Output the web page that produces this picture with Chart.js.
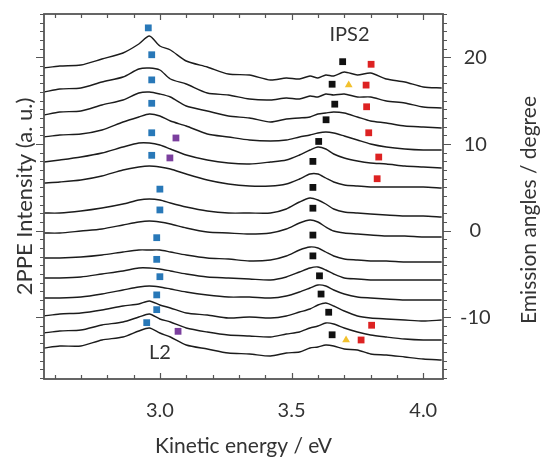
<!DOCTYPE html>
<html>
<head>
<meta charset="utf-8">
<script src="https://cdn.jsdelivr.net/npm/chart.js@4.4.0/dist/chart.umd.min.js"></script>
<style>
  html, body { margin: 0; padding: 0; background: #fff; }
  #wrap { width: 542px; height: 459px; }
</style>
</head>
<body>
<div id="wrap"><canvas id="spectraChart"></canvas></div>
<script>
// kinetic energy grid (eV) shared by every spectrum
const energy = [2.56, 2.62, 2.70, 2.78, 2.86, 2.92, 2.96, 3.00, 3.04, 3.10, 3.18, 3.26, 3.34, 3.42,
  3.48, 3.53, 3.57, 3.60, 3.63, 3.66, 3.70, 3.75, 3.80, 3.86, 3.93, 4.00, 4.07];

// stacked 2PPE spectra (a.u., offsets included), top trace first
const spec01 = [311,313,314,320,326,335,343,333,329,318,312,305,304,299,301,300,303,301,304,303,307,304,306,300,297,292,291];
const spec02 = [287,290,291,297,302,310,311,309,300,295,286,284,280,279,281,280,283,282,285,284,285,282,282,278,276,272,271];
const spec03 = [264,267,268,274,279,286,287,285,282,273,268,263,261,257,260,261,262,265,266,267,266,262,258,256,253,252,251];
const spec04 = [242,244,245,249,257,262,265,263,258,253,245,242,239,238,239,242,244,246,247,246,243,239,235,232,230,229,229];
const spec05 = [217,219,222,226,232,236,236,234,230,224,219,216,215,217,219,224,229,232,230,225,221,218,216,215,213,212,211];
const spec06 = [196,197,199,203,209,212,213,212,210,205,199,195,193,193,195,200,205,205,201,197,194,193,192,192,192,192,191];
const spec07 = [166,166,168,171,175,179,180,179,176,172,168,166,166,166,170,177,181,179,175,170,167,166,165,164,163,163,162];
const spec08 = [146,146,148,150,154,157,158,157,155,151,147,146,145,146,150,156,159,157,152,148,146,145,144,143,143,142,142];
const spec09 = [121,121,122,124,127,129,129,129,127,124,121,120,118,119,123,129,132,131,127,123,120,119,118,118,117,117,117];
const spec10 = [101,101,102,105,108,111,111,110,108,105,102,101,100,99,102,107,111,112,109,105,101,100,99,99,99,99,99];
const spec11 = [81,81,82,85,89,92,93,92,90,87,84,82,82,81,83,87,91,94,93,89,85,82,81,80,79,79,79];
const spec12 = [63,65,66,69,73,75,78,74,71,66,64,61,62,61,63,67,70,74,76,73,68,63,61,60,59,58,59];
const spec13 = [46,48,49,54,57,62,65,60,57,51,47,44,43,42,45,47,51,53,56,55,51,47,44,42,40,39,39];
const spec14 = [31,33,33,39,42,48,51,46,42,34,30,26,25,23,26,27,31,32,34,33,30,29,25,24,22,20,19];

// peak positions: energy (eV) and emission angle (degree)
const l2Energy = [2.956, 2.969, 2.969, 2.969, 2.969, 2.969, 3.000, 3.000, 2.988, 2.988, 3.000, 2.988, 2.988, 2.950];
const l2Angle = [23.4, 20.3, 17.4, 14.7, 11.3, 8.7, 4.8, 2.4, -0.8, -3.3, -5.3, -7.4, -9.1, -10.6];
const ipsEnergy = [3.694, 3.654, 3.664, 3.631, 3.603, 3.581, 3.581, 3.581, 3.581, 3.581, 3.606, 3.612, 3.641, 3.654];
const ipsAngle = [19.5, 16.9, 14.6, 12.8, 10.3, 8.0, 5.0, 2.6, -0.5, -2.9, -5.2, -7.3, -9.4, -12.0];
const redEnergy = [3.802, 3.783, 3.785, 3.793, 3.831, 3.825, 3.804, 3.764];
const redAngle = [19.2, 16.8, 14.3, 11.3, 8.5, 6.0, -10.9, -12.6];
const yellowEnergy = [3.717, 3.707];
const yellowAngle = [16.8, -12.6];
const purpleEnergy = [3.061, 3.038, 3.069];
const purpleAngle = [10.7, 8.4, -11.6];

// axis tick labels
const energyTicks = [3.0, 3.5, 4.0];
const angleTicks = [-10, 0, 10, 20];

const spectra = [spec01, spec02, spec03, spec04, spec05, spec06, spec07,
  spec08, spec09, spec10, spec11, spec12, spec13, spec14];

const FONT = 'Lato, "Open Sans", sans-serif';
const TEXT = '#333';

function pts(xs, ys) {
  return xs.map((x, i) => ({ x: x, y: ys[i] }));
}

function markers(xs, ys, color, style) {
  return {
    type: 'scatter',
    data: pts(xs, ys),
    yAxisID: 'ang',
    pointStyle: style,
    pointRadius: style === 'triangle' ? 4.5 : 4.8,
    backgroundColor: color,
    borderColor: color,
    borderWidth: 0,
    order: 0
  };
}

// no extra label padding, so the plot box stays where the reference has it
function noPad(scale) {
  scale.paddingTop = 0;
  scale.paddingBottom = 0;
  scale.paddingLeft = 0;
  scale.paddingRight = 0;
}

// frame, inward/outward ticks, peak names and right-hand title
const decorations = {
  id: 'decorations',
  afterDatasetsDraw(chart) {
    const { ctx, chartArea: a, scales } = chart;
    const xs = scales.x, ys = scales.ang;
    ctx.save();
    ctx.strokeStyle = '#555';
    ctx.lineWidth = 1.2;
    ctx.beginPath();
    for (let k = 26; k <= 40; k++) {
      const px = Math.round(xs.getPixelForValue(k / 10)) + 0.5;
      const len = k % 5 === 0 ? 6 : 4;
      ctx.moveTo(px, a.bottom); ctx.lineTo(px, a.bottom - len);
      ctx.moveTo(px, a.top); ctx.lineTo(px, a.top + len);
    }
    for (let d = -17; d <= 25; d++) {
      const py = Math.round(ys.getPixelForValue(d)) + 0.5;
      const len = d % 10 === 0 ? 8 : 4;
      ctx.moveTo(a.right, py); ctx.lineTo(a.right + len, py);
      ctx.moveTo(a.left, py); ctx.lineTo(a.left - len, py);
    }
    ctx.stroke();
    ctx.lineWidth = 1.8;
    ctx.strokeRect(a.left, a.top, a.right - a.left, a.bottom - a.top);

    ctx.fillStyle = TEXT;
    ctx.font = '20px ' + FONT;
    ctx.textAlign = 'center';
    ctx.textBaseline = 'middle';
    ctx.fillText('IPS2', xs.getPixelForValue(3.72), ys.getPixelForValue(22.6));
    ctx.fillText('L2', xs.getPixelForValue(3.0), ys.getPixelForValue(-14.1));

    ctx.translate(529, 210);
    ctx.rotate(-Math.PI / 2);
    ctx.font = '21px ' + FONT;
    ctx.fillText('Emission angles / degree', 0, 0);
    ctx.restore();
  }
};

const datasets = spectra.map((s, i) => ({
  type: 'line',
  label: 'spectrum ' + (i + 1),
  data: pts(energy, s),
  yAxisID: 'inten',
  borderColor: '#1c1c1c',
  borderWidth: 1.4,
  pointRadius: 0,
  tension: 0.25,
  fill: false,
  order: 1
}));

datasets.push(markers(l2Energy, l2Angle, '#2878b8', 'rect'));
datasets.push(markers(ipsEnergy, ipsAngle, '#111111', 'rect'));
datasets.push(markers(redEnergy, redAngle, '#dd2222', 'rect'));
datasets.push(markers(yellowEnergy, yellowAngle, '#f2c12e', 'triangle'));
datasets.push(markers(purpleEnergy, purpleAngle, '#7b3f9e', 'rect'));

new Chart('spectraChart', {
  data: { datasets: datasets },
  options: {
    responsive: true,
    maintainAspectRatio: false,
    animation: false,
    layout: { padding: { top: 14, left: 0, right: 0, bottom: 0 }, autoPadding: false },
    plugins: {
      legend: { display: false },
      tooltip: { enabled: false }
    },
    scales: {
      x: {
        type: 'linear',
        position: 'bottom',
        min: 2.56,
        max: 4.075,
        grid: { display: false, drawTicks: false },
        border: { display: false },
        afterBuildTicks: (scale) => { scale.ticks = energyTicks.map(v => ({ value: v })); },
        afterFit: (scale) => { scale.height = 80; noPad(scale); },
        ticks: {
          padding: 20,
          color: TEXT,
          font: { family: FONT, size: 20 },
          callback: (v) => Number(v).toFixed(1)
        },
        title: {
          display: true,
          text: 'Kinetic energy / eV',
          color: TEXT,
          font: { family: FONT, size: 21 },
          padding: { top: 0, bottom: 0 }
        }
      },
      inten: {
        type: 'linear',
        position: 'left',
        min: 0,
        max: 365,
        grid: { display: false, drawTicks: false },
        border: { display: false },
        ticks: { display: false },
        afterFit: (scale) => { scale.width = 44; noPad(scale); },
        title: {
          display: true,
          text: '2PPE Intensity (a. u.)',
          color: TEXT,
          font: { family: FONT, size: 22 },
          padding: { top: 12, bottom: 0 }
        }
      },
      ang: {
        type: 'linear',
        position: 'right',
        min: -17.1,
        max: 25,
        grid: { display: false, drawTicks: false },
        border: { display: false },
        afterBuildTicks: (scale) => { scale.ticks = angleTicks.map(v => ({ value: v })); },
        afterFit: (scale) => { scale.width = 99; noPad(scale); },
        ticks: {
          padding: 17,
          crossAlign: 'center',
          color: TEXT,
          font: { family: FONT, size: 20 }
        }
      }
    }
  },
  plugins: [decorations]
});
</script>
</body>
</html>
